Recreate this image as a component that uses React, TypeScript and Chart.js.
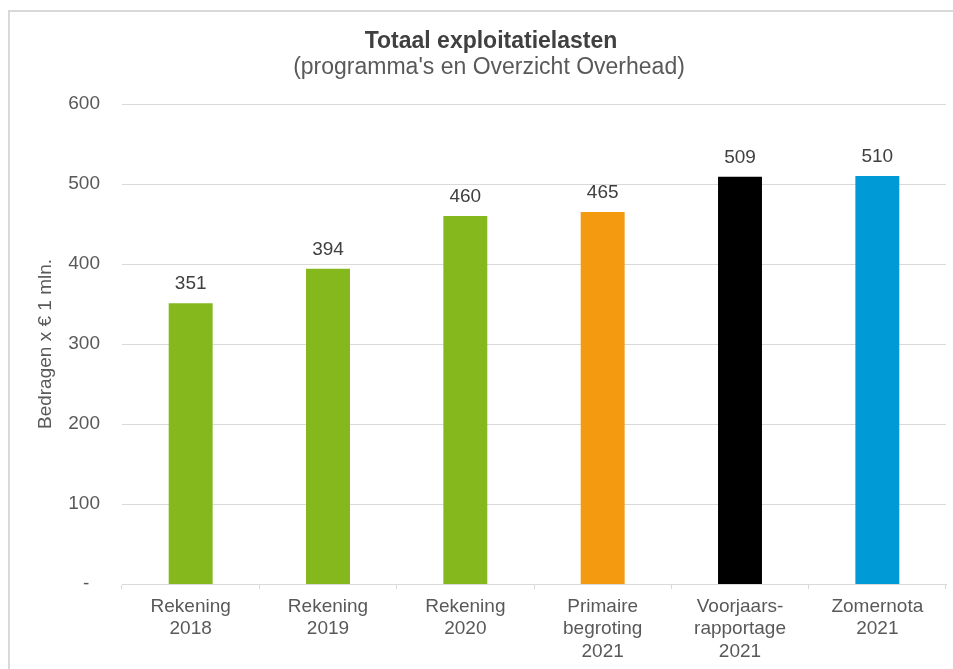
import React, { useEffect, useRef } from "react";
import { Chart, registerables } from "chart.js";

Chart.register(...registerables);

const categories: string[][] = [
  ["Rekening", "2018"],
  ["Rekening", "2019"],
  ["Rekening", "2020"],
  ["Primaire", "begroting", "2021"],
  ["Voorjaars-", "rapportage", "2021"],
  ["Zomernota", "2021"],
];
const values: number[] = [351, 394, 460, 465, 509, 510];
const barColors: string[] = ["#84b81c", "#84b81c", "#84b81c", "#f39a11", "#000000", "#009ad7"];
const titleText = "Totaal exploitatielasten";
const subtitleText = "(programma's en Overzicht Overhead)";
const yAxisTitle = "Bedragen x € 1 mln.";
const yMin = 0;
const yMax = 600;
const yStep = 100;

const FONT = "'Liberation Sans', Arial, sans-serif";

export default function App() {
  const ref = useRef<HTMLCanvasElement | null>(null);

  useEffect(() => {
    if (!ref.current) return;

    const decor = {
      id: "decor",
      beforeDraw(chart: any) {
        const ctx = chart.ctx;
        ctx.save();
        ctx.strokeStyle = "#d9d9d9";
        ctx.lineWidth = 2;
        ctx.strokeRect(9, 11, 1000, 700);
        ctx.restore();
      },
      afterDraw(chart: any) {
        const ctx = chart.ctx;
        ctx.save();
        ctx.textAlign = "center";
        ctx.textBaseline = "middle";
        ctx.fillStyle = "#404040";
        ctx.font = `bold 23px ${FONT}`;
        ctx.fillText(titleText, 491, 42);
        ctx.font = `23px ${FONT}`;
        ctx.fillStyle = "#595959";
        ctx.fillText(subtitleText, 489, 68);

        const meta = chart.getDatasetMeta(0);
        ctx.font = `19px ${FONT}`;
        ctx.fillStyle = "#404040";
        meta.data.forEach((bar: any, i: number) => {
          ctx.fillText(String(values[i]), bar.x, bar.y - 19);
        });
        ctx.restore();
      },
    };

    const chart = new Chart(ref.current, {
      type: "bar",
      data: {
        labels: categories,
        datasets: [
          {
            data: values,
            backgroundColor: barColors,
            borderWidth: 0,
            categoryPercentage: 1,
            barPercentage: 0.32,
          },
        ],
      },
      options: {
        responsive: false,
        animation: false,
        layout: { padding: { left: 8, top: 104, right: 7, bottom: 0 } },
        plugins: {
          legend: { display: false },
          tooltip: { enabled: false },
          title: { display: false },
        },
        scales: {
          x: {
            afterFit(scale: any) {
              scale.height = 85;
            },
            grid: {
              display: true,
              drawOnChartArea: false,
              drawTicks: true,
              tickLength: 5,
              color: "#d9d9d9",
              offset: true,
            },
            border: { display: true, color: "#d9d9d9", width: 1 },
            ticks: {
              color: "#595959",
              font: { family: FONT, size: 19, lineHeight: 1.2 },
              padding: 6,
              maxRotation: 0,
              autoSkip: false,
            },
          },
          y: {
            min: yMin,
            max: yMax,
            afterFit(scale: any) {
              scale.width = 114;
            },
            grid: {
              color: "#d9d9d9",
              drawTicks: false,
              lineWidth: (c: any) => (c.tick && c.tick.value === 0 ? 0 : 1),
            },
            border: { display: false },
            ticks: {
              stepSize: yStep,
              color: "#595959",
              font: { family: FONT, size: 19 },
              padding: 22,
              callback: (v: any) => (Number(v) === 0 ? "-\u00a0\u00a0" : String(v)),
            },
            title: {
              display: true,
              text: yAxisTitle,
              color: "#595959",
              font: { family: FONT, size: 19, lineHeight: 1.2 },
              padding: { top: 26, bottom: 0 },
            },
          },
        },
      },
      plugins: [decor],
    });

    return () => chart.destroy();
  }, []);

  return (
    <canvas
      ref={ref}
      width={953}
      height={669}
      style={{ position: "fixed", left: 0, top: 0, width: 953, height: 669, background: "#ffffff" }}
    />
  );
}
